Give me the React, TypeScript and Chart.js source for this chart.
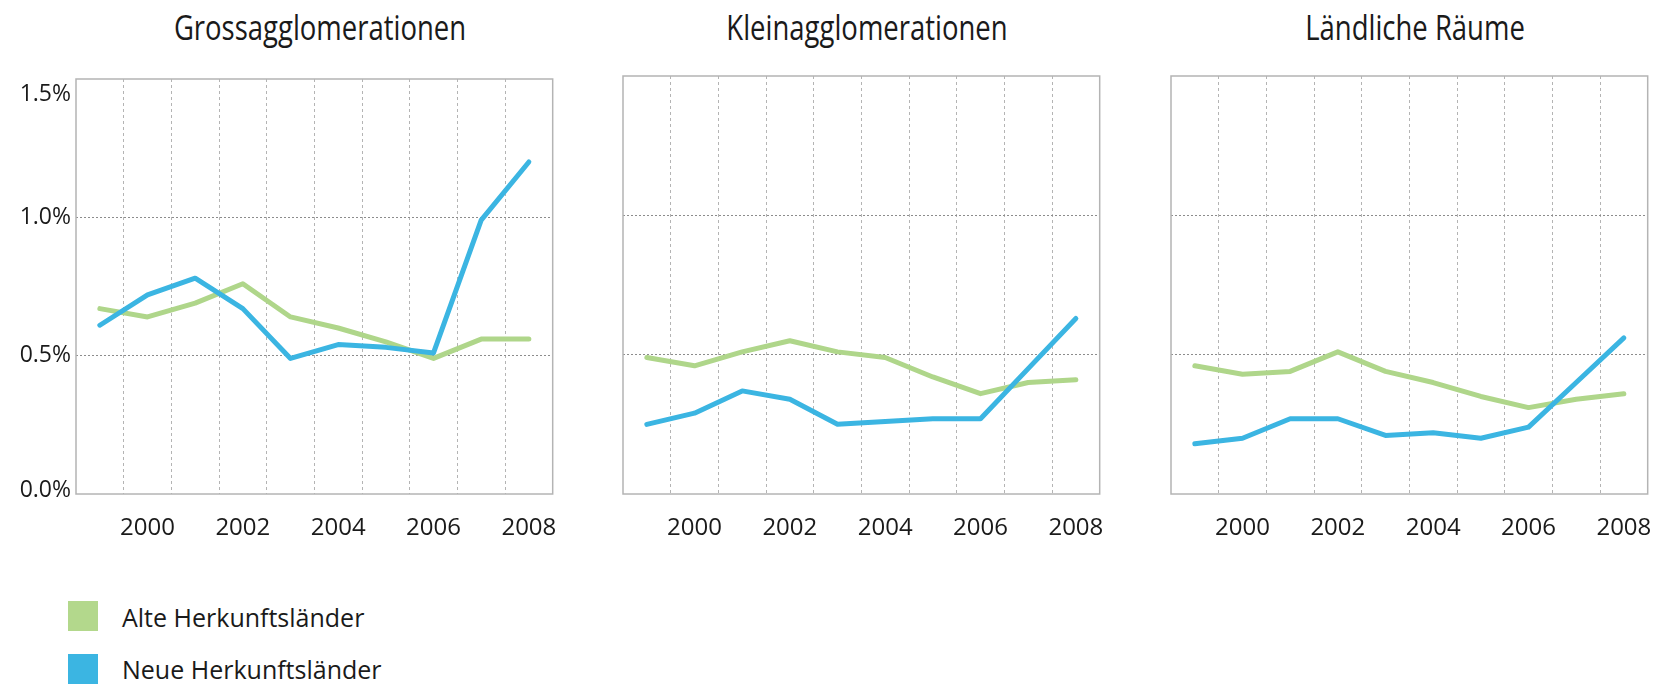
import React, { useEffect, useRef } from 'react';
import { Chart, registerables } from 'chart.js';

Chart.register(...registerables);

// ---- Data ----
const years = ['1999', '2000', '2001', '2002', '2003', '2004', '2005', '2006', '2007', '2008'];
const panelTitles = ['Grossagglomerationen', 'Kleinagglomerationen', 'Ländliche Räume'];
const seriesNames = ['Alte Herkunftsländer', 'Neue Herkunftsländer'];
const yTicks = [0, 0.5, 1.0, 1.5];

const grossAlte = [0.67, 0.64, 0.69, 0.76, 0.64, 0.60, 0.55, 0.49, 0.56, 0.56];
const grossNeue = [0.61, 0.72, 0.78, 0.67, 0.49, 0.54, 0.53, 0.51, 0.99, 1.20];
const kleinAlte = [0.49, 0.46, 0.51, 0.55, 0.51, 0.49, 0.42, 0.36, 0.40, 0.41];
const kleinNeue = [0.25, 0.29, 0.37, 0.34, 0.25, 0.26, 0.27, 0.27, 0.45, 0.63];
const landAlte = [0.46, 0.43, 0.44, 0.51, 0.44, 0.40, 0.35, 0.31, 0.34, 0.36];
const landNeue = [0.18, 0.20, 0.27, 0.27, 0.21, 0.22, 0.20, 0.24, 0.40, 0.56];

// ---- Style / layout ----
const GREEN = '#afd68a';
const GREEN_LEGEND = '#b3d88c';
const BLUE = '#3bb5e2';
const TEXT = '#1a1a1a';
const FONT = "'Open Sans', 'Noto Sans', sans-serif";

const BOX_TOP = 76;
const BOX_H = 418;
const BOX_W = 487;
const AXIS_W = 76;
const PAD_TOP = 32;
const PAD_RIGHT = 14;
const XAXIS_H = 50;
const panelLefts = [76, 623, 1171];

const framePlugin = {
  id: 'frame',
  beforeDatasetsDraw(chart: any) {
    const { ctx, chartArea: a } = chart;
    ctx.save();
    ctx.strokeStyle = '#b4b4b4';
    ctx.lineWidth = 1.5;
    ctx.strokeRect(a.left, a.top, a.right - a.left, a.bottom - a.top);
    ctx.restore();
  },
};

function Panel(props: { alte: number[]; neue: number[]; left: number; showY: boolean }) {
  const ref = useRef<HTMLCanvasElement | null>(null);
  useEffect(() => {
    if (!ref.current) return;
    const chart = new Chart(ref.current, {
      type: 'line',
      data: {
        labels: years,
        datasets: [
          {
            label: seriesNames[0],
            data: props.alte,
            borderColor: GREEN,
            backgroundColor: GREEN,
            borderWidth: 5,
            pointRadius: 0,
            borderCapStyle: 'round',
            borderJoinStyle: 'round',
            order: 1,
          },
          {
            label: seriesNames[1],
            data: props.neue,
            borderColor: BLUE,
            backgroundColor: BLUE,
            borderWidth: 5,
            pointRadius: 0,
            borderCapStyle: 'round',
            borderJoinStyle: 'round',
            order: 0,
          },
        ],
      },
      options: {
        responsive: false,
        animation: false,
        layout: { padding: { top: PAD_TOP, right: PAD_RIGHT, left: 0, bottom: 0 } },
        plugins: {
          legend: { display: false },
          tooltip: { enabled: false },
          title: { display: false },
        },
        scales: {
          x: {
            type: 'category',
            offset: true,
            afterFit: (s: any) => {
              s.height = XAXIS_H;
            },
            grid: {
              offset: true,
              drawTicks: false,
              lineWidth: 1,
              color: (c: any) =>
                c.tick === undefined || c.index === 0 ? 'rgba(0,0,0,0)' : '#b4b4b4',
            },
            border: { display: false, dash: [3, 3] },
            ticks: {
              autoSkip: false,
              maxRotation: 0,
              minRotation: 0,
              padding: 20,
              color: TEXT,
              font: { family: FONT, size: 24 },
              callback: (_v: any, idx: number) => {
                const y = years[idx];
                return Number(y) % 2 === 0 ? y : '';
              },
            },
          },
          y: {
            min: yTicks[0],
            max: yTicks[yTicks.length - 1],
            afterFit: (s: any) => {
              s.width = AXIS_W;
            },
            afterBuildTicks: (s: any) => {
              s.ticks = yTicks.map((v) => ({ value: v }));
            },
            grid: {
              drawTicks: false,
              lineWidth: 1,
              color: (c: any) =>
                c.tick && (c.tick.value === yTicks[0] || c.tick.value === yTicks[yTicks.length - 1])
                  ? 'rgba(0,0,0,0)'
                  : '#8c8c8c',
            },
            border: { display: false, dash: [2, 2] },
            ticks: {
              display: props.showY,
              padding: 5,
              color: TEXT,
              font: (c: any) => {
                const v = c.tick ? c.tick.value : 0.5;
                let lh: any = 1.2;
                if (v >= 1.499) lh = '30px';
                else if (v <= 0.001) lh = '8px';
                return { family: FONT, size: 23, lineHeight: lh };
              },
              callback: (v: any) => {
                const s = Number(v).toFixed(1) + '%';
                if (v >= 1.499) return ['', s];
                if (v <= 0.001) return [s, ''];
                return s;
              },
            },
          },
        },
      },
      plugins: [framePlugin],
    } as any);
    return () => chart.destroy();
  }, []);

  const cw = AXIS_W + BOX_W + PAD_RIGHT;
  const ch = PAD_TOP + BOX_H + XAXIS_H;
  return (
    <canvas
      ref={ref}
      width={cw}
      height={ch}
      style={{
        position: 'absolute',
        left: props.left - AXIS_W,
        top: BOX_TOP - PAD_TOP,
        width: cw,
        height: ch,
        display: 'block',
      }}
    />
  );
}

export default function App() {
  const data = [
    [grossAlte, grossNeue],
    [kleinAlte, kleinNeue],
    [landAlte, landNeue],
  ];
  return (
    <div
      style={{
        position: 'fixed',
        left: 0,
        top: 0,
        width: 1675,
        height: 685,
        background: '#ffffff',
        overflow: 'hidden',
        fontFamily: FONT,
        color: TEXT,
      }}
    >
      {panelTitles.map((t, i) => (
        <div
          key={t}
          style={{
            position: 'absolute',
            left: panelLefts[i] + BOX_W / 2,
            top: 9,
            fontSize: 35,
            fontWeight: 500,
            lineHeight: 1,
            whiteSpace: 'nowrap',
            transform: 'translateX(-50%) scaleX(0.785)',
            transformOrigin: '50% 50%',
          }}
        >
          {t}
        </div>
      ))}
      {data.map((d, i) => (
        <Panel key={i} alte={d[0]} neue={d[1]} left={panelLefts[i]} showY={i === 0} />
      ))}
      {seriesNames.map((n, i) => (
        <React.Fragment key={n}>
          <div
            style={{
              position: 'absolute',
              left: 68,
              top: i === 0 ? 601 : 654,
              width: 30,
              height: 30,
              background: i === 0 ? GREEN_LEGEND : BLUE,
            }}
          />
          <div
            style={{
              position: 'absolute',
              left: 122,
              top: i === 0 ? 605 : 657,
              fontSize: 25,
              lineHeight: 1,
              whiteSpace: 'nowrap',
            }}
          >
            {n}
          </div>
        </React.Fragment>
      ))}
    </div>
  );
}
